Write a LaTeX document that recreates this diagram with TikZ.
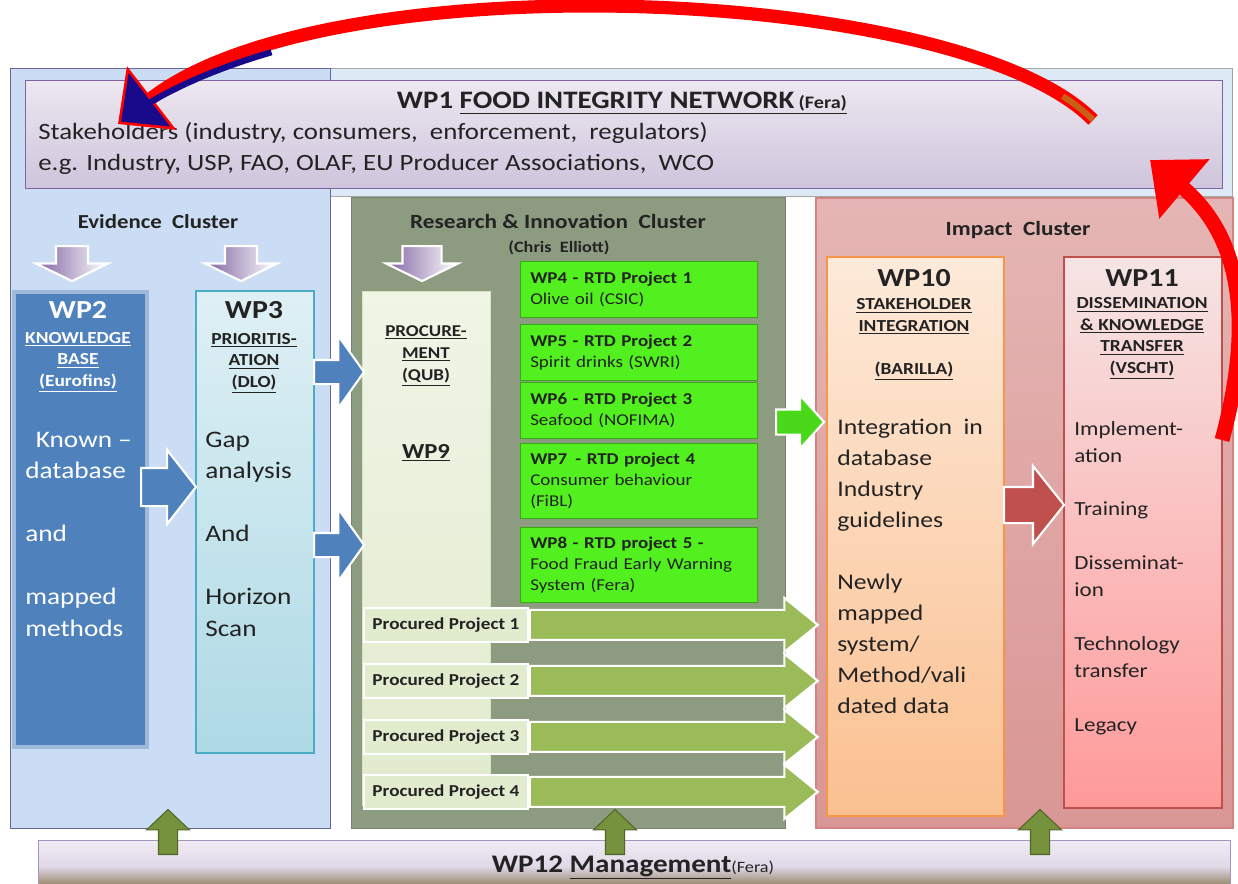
\documentclass[tikz,border=0pt]{standalone}
\usepackage{fontspec}
\setmainfont{Carlito}[FakeStretch=1.15]
\usepackage{tikz}
\usetikzlibrary{shapes,arrows.meta,positioning}
\definecolor{ink}{RGB}{35, 35, 35}
\definecolor{toppanelblue}{RGB}{222, 233, 246}
\definecolor{evblue}{RGB}{203, 221, 245}
\definecolor{rigray}{RGB}{141, 155, 129}
\definecolor{impactrose}{RGB}{217, 150, 148}
\definecolor{wpviolet}{RGB}{128, 100, 162}
\definecolor{kbblue}{RGB}{79, 129, 189}
\definecolor{aqua}{RGB}{75, 172, 198}
\definecolor{rtdgreen}{RGB}{82, 240, 30}
\definecolor{olivegreen}{RGB}{155, 187, 89}
\definecolor{darkolive}{RGB}{118, 146, 60}
\definecolor{peach}{RGB}{247, 150, 70}
\definecolor{brick}{RGB}{192, 80, 77}
\definecolor{arrowred}{RGB}{255, 0, 0}
\definecolor{headnavy}{RGB}{25, 10, 140}
\definecolor{tailbrown}{RGB}{200, 95, 20}
\definecolor{mgmttan}{RGB}{125, 105, 60}
\newcommand{\pu}{0.02cm}
\newcommand{\fsz}[2]{\fontsize{#1}{#2}\selectfont}

\begin{document}
\begin{tikzpicture}[x=0.02cm, y=-0.02cm,
    panel/.style={rectangle, inner sep=0pt, anchor=north west},
    dims/.style 2 args={minimum width=#1*\pu, minimum height=#2*\pu},
    txt/.style={inner sep=0pt, text=ink},
    head/.style={txt, anchor=base, font=\fsz{14.8}{17}\bfseries},
    sub/.style={txt, anchor=base, align=center, font=\fsz{9.6}{12.2}\bfseries},
    body/.style={txt, anchor=base west, align=left},
    rtdbox/.style={panel, fill=rtdgreen, draw=rtdgreen!70!black, line width=0.3pt,
        text width=217*\pu, inner xsep=10*\pu, align=left, text=ink, font=\fsz{9.4}{11.9}},
    plabel/.style={panel, fill=olivegreen!30, draw=white, line width=1pt,
        dims={164}{34}, text=ink, font=\fsz{9.5}{11}\bfseries},
    barrow/.style n args={4}{single arrow, draw=white, line width=1.2pt, inner xsep=0pt,
        single arrow head indent=0pt, minimum height=#1*\pu, inner ysep=#2*\pu/2,
        single arrow head extend=#3*\pu, single arrow tip angle=#4, anchor=tail},
    downarrow/.style={barrow={35}{30}{20}{128}, rotate=-90, left color=wpviolet, right color=white,
        draw=white},
    uparrow/.style={barrow={45}{18}{12}{93}, rotate=90, fill=darkolive, draw=darkolive!70!black,
        line width=0.6pt},
    redarrow/.style={draw=arrowred, line width=7.5pt}
]
\useasboundingbox (0,0) rectangle (1238,883);

% Panels
\node[panel, dims={1222}{128}, fill=toppanelblue, draw=gray!70] (toppanel) at (10,68) {};
\node[panel, dims={320}{760}, fill=evblue, draw=gray!80!blue] (evpanel) at (10,68) {};
\node[panel, dims={434}{631}, fill=rigray, draw=rigray!85!black] (ripanel) at (351,197) {};
\node[panel, dims={417}{630}, top color=impactrose!70!white, bottom color=impactrose,
    draw=brick!70!white, line width=1pt] (impanel) at (815,197) {};

% WP1
\node[panel, dims={1197}{108}, top color=wpviolet!15, bottom color=wpviolet!38,
    draw=wpviolet, line width=0.8pt] (wp1) at (25,80) {};
\node[txt, anchor=base, font=\fsz{14.3}{17}\bfseries] (wp1title) at (622,108)
    {WP1 \underline{FOOD INTEGRITY NETWORK\,{\fsz{10}{12}(Fera)}}};
\node[body, font=\fsz{13.3}{17.6}] (wp1text) at (38,170)
    {Stakeholders (industry, consumers,\ \ enforcement,\ \ regulators)\\
     e.g. Industry, USP, FAO, OLAF, EU Producer Associations,\ \ WCO};

% Cluster titles
\node[txt, anchor=base, font=\fsz{11.3}{13}\bfseries] (evtitle) at (158,228) {Evidence\ \ Cluster};
\node[txt, anchor=base, font=\fsz{11.5}{13}\bfseries] (rititle) at (558,228)
    {Research \& Innovation\ \ Cluster};
\node[txt, anchor=base, font=\fsz{9}{11}\bfseries] (richair) at (559,252) {(Chris\ \ Elliott)};
\node[txt, anchor=base, font=\fsz{11.5}{13}\bfseries] (imtitle) at (1018,235) {Impact\ \ Cluster};

% Evidence cluster
\node[panel, dims={133}{455}, fill=kbblue, draw=kbblue!55!white, line width=2.5pt] (wp2) at (12,290) {};
\node[head, text=white] (wp2head) at (78,318) {WP2};
\node[sub, text=white] (wp2sub) at (78,386)
    {\underline{KNOWLEDGE}\\\underline{BASE}\\\underline{(Eurofins)}};
\node[body, text=white, font=\fsz{13.5}{17.9}] (wp2text) at (25,636)
    {\hspace*{6pt}Known --\\database\\[17.9pt]and\\[17.9pt]mapped\\methods};

\node[panel, dims={118}{462}, top color=aqua!18, bottom color=aqua!45, draw=aqua,
    line width=1pt] (wp3) at (195,290) {};
\node[head] (wp3head) at (254,318) {WP3};
\node[sub] (wp3sub) at (254,387)
    {\underline{PRIORITIS-}\\\underline{ATION}\\\underline{(DLO)}};
\node[body, font=\fsz{13.5}{17.9}] (wp3text) at (205,636)
    {Gap\\analysis\\[17.9pt]And\\[17.9pt]Horizon\\Scan};

% Research & Innovation cluster
\node[panel, dims={128}{514}, top color=olivegreen!15, bottom color=olivegreen!30,
    draw=olivegreen!40] (wp9) at (362,291) {};
\node[sub, font=\fsz{9.4}{12.5}\bfseries] (wp9sub) at (426,380)
    {\underline{PROCURE-}\\\underline{MENT}\\\underline{(QUB)}};
\node[txt, anchor=base, font=\fsz{12.2}{14}\bfseries] (wp9head) at (426,458) {\underline{WP9}};

\node[rtdbox, dims={237}{56}] (wp4) at (520,261) {\textbf{WP4 - RTD Project 1}\\Olive oil (CSIC)};
\node[rtdbox, dims={237}{56}] (wp5) at (520,324) {\textbf{WP5 - RTD Project 2}\\Spirit drinks (SWRI)};
\node[rtdbox, dims={237}{56}] (wp6) at (520,382) {\textbf{WP6 - RTD Project 3}\\Seafood (NOFIMA)};
\node[rtdbox, dims={237}{75}] (wp7) at (520,443)
    {\textbf{WP7\, - RTD project 4}\\Consumer behaviour\\(FiBL)};
\node[rtdbox, dims={237}{75}] (wp8) at (520,527)
    {\textbf{WP8 - RTD project 5 -}\\Food Fraud Early Warning\\System (Fera)};

\foreach \i/\y in {1/607, 2/663, 3/719, 4/774} {
    \node[plabel] (pp\i) at (363,\y) {Procured Project \i};
    \node[barrow={288}{28}{12}{78}, fill=olivegreen] (pa\i) at (pp\i.east) {};
}

% Impact cluster
\node[panel, dims={177}{559}, top color=peach!20, bottom color=peach!60, draw=peach,
    line width=1pt] (wp10) at (826,256) {};
\node[head] (wp10head) at (914,286) {WP10};
\node[sub] (wp10sub) at (914,374)
    {\underline{STAKEHOLDER}\\\underline{INTEGRATION}\\[12.2pt]\underline{(BARILLA)}};
\node[body, font=\fsz{12.7}{17.6}] (wp10text) at (837,713)
    {Integration\ \ in\\database\\Industry\\guidelines\\[17.6pt]Newly\\mapped\\system/\\Method/vali\\dated data};

\node[panel, dims={158}{551}, top color=brick!15!white, bottom color=red!40!white, draw=brick,
    line width=1pt] (wp11) at (1063,256) {};
\node[head] (wp11head) at (1142,286) {WP11};
\node[sub] (wp11sub) at (1142,373)
    {\underline{DISSEMINATION}\\\underline{\& KNOWLEDGE}\\\underline{TRANSFER}\\\underline{(VSCHT)}};
\node[body, font=\fsz{11.4}{15.3}] (wp11text) at (1074,731)
    {Implement-\\ation\\[15.3pt]Training\\[15.3pt]Disseminat-\\ion\\[15.3pt]Technology\\transfer\\[15.3pt]Legacy};

% WP12
\node[panel, dims={1192}{52}, top color=wpviolet!12, bottom color=mgmttan,
    middle color=wpviolet!25, draw=wpviolet!70] (wp12) at (38,840) {};
\node[txt, anchor=base] (wp12title) at (633,872)
    {{\fsz{14.4}{17}\bfseries WP12 \underline{Management}}{\fsz{9}{11}(Fera)}};

% Block arrows
\node[downarrow] (dnwp2) at (72,245) {};
\node[downarrow] (dnwp3) at (241,245) {};
\node[downarrow, barrow={35}{37}{16.5}{128}] (dnwp9) at (422,245) {};
\node[barrow={55}{36}{18}{104}, fill=kbblue] (kbtopri) at (140,487) {};
\node[barrow={50}{22}{24}{109}, fill=kbblue] (pritoproc1) at (313,372) {};
\node[barrow={50}{22}{24}{109}, fill=kbblue] (pritoproc2) at (313,545) {};
\node[barrow={48}{23}{14}{96}, fill=rtdgreen!90!black] (rtdtoint) at (775,422) {};
\node[barrow={60}{34}{21}{103}, fill=brick] (inttodis) at (1003,505) {};
\node[uparrow] (upev) at (168,855) {};
\node[uparrow] (upri) at (615,855) {};
\node[uparrow] (upim) at (1040,855) {};

% Feedback arrows
\coordinate (fbtail) at (1093,120);
\coordinate (fbtip) at (118,124);
\draw[redarrow, -{Triangle[length=0.85cm, width=1.6cm, fill=headnavy, line width=1.5pt]}]
    (fbtail) .. controls (960,-15) and (330,-40) .. (fbtip);
\draw[headnavy, line width=3.5pt, dash pattern=on 0pt off 17pt on 80pt off 2000pt]
    (fbtip) .. controls (330,-40) and (960,-15) .. (fbtail);
\draw[tailbrown, line width=3.5pt, dash pattern=on 22pt off 2000pt]
    (fbtail) .. controls (960,-15) and (330,-40) .. (fbtip);
\coordinate (distail) at (1222,440);
\coordinate (distip) at (1150,160);
\draw[redarrow, line width=8.5pt, -{Triangle[length=0.9cm, width=1.5cm, fill=arrowred]}]
    (distail) .. controls (1252,330) and (1245,240) .. (distip);
\end{tikzpicture}
\end{document}
